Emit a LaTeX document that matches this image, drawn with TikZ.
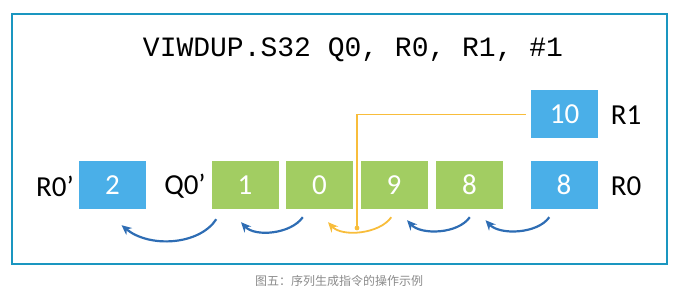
\documentclass[tikz,border=0pt]{standalone}
\usepackage{fontspec}
\setmainfont{Carlito}
\newfontfamily\monofnt{Liberation Mono}
\newfontfamily\cjk{Noto Sans CJK SC}
\usetikzlibrary{arrows.meta,calc}
\definecolor{frameblue}{HTML}{1A96C0}
\definecolor{boxblue}{HTML}{4AAFE8}
\definecolor{boxgreen}{HTML}{A2CD62}
\definecolor{arrblue}{HTML}{2E6DB4}
\definecolor{arryel}{HTML}{F8BD3B}
\definecolor{capgray}{HTML}{8A8A8A}
\tikzset{
  regbox/.style={fill=boxblue,draw=none,minimum width=67pt,minimum height=48pt,inner sep=0pt,text=white,font=\fontsize{29}{29}\selectfont},
  vecbox/.style={regbox,fill=boxgreen},
  lbl/.style={font=\fontsize{29}{29}\selectfont,text=black,inner sep=0pt},
  barr/.style={draw=arrblue,line width=2.2pt,-{Stealth[length=10pt,width=9pt]}},
  yarr/.style={draw=arryel,line width=1.8pt,-{Stealth[length=10pt,width=9pt]}},
}
\begin{document}
\begin{tikzpicture}[x=1pt,y=-1pt]
\useasboundingbox (0,0) rectangle (678,302);
\draw[frameblue,line width=2.2pt] (12,14) rectangle (667,264);
\node[inner sep=0pt,font=\monofnt\fontsize{28}{28}\selectfont] (title) at (353,50) {VIWDUP.S32 Q0, R0, R1, \#1};
% boxes
\node[regbox] (r1) at (564.5,114.5) {10};
\node[regbox] (r0p) at (112.5,185) {2};
\node[vecbox] (q1) at (245,185) {1};
\node[vecbox] (q0) at (319.5,185) {0};
\node[vecbox] (q9) at (394,185) {9};
\node[vecbox] (q8) at (469.5,185) {8};
\node[regbox] (r0) at (564,185) {8};
% labels
\node[lbl] (lr1) at (626,115) {R1};
\node[lbl] (lr0) at (626,186) {R0};
\node[lbl] (lr0p) at (55,186) {R0’};
\node[lbl] (lq0p) at (185,186) {Q0’};
% yellow feed line
\coordinate (dot) at (357,228);
\draw[arryel,line width=1.6pt] ($(r1.west)+(-5,0)$) -| (dot);
% arrows
\draw[barr] ($(q1.south west)+(5,10)$) .. controls +(-17,26) and +(28,23) .. ($(r0p.south)+(9,16)$);
\draw[barr] ($(q0.south west)+(17,8)$) .. controls +(-12,17) and +(14,15) .. ($(q1.south)+(-4,13)$);
\draw[yarr] ($(q9.south west)+(31,8)$) .. controls +(-12,17) and +(14,15) .. ($(q0.south)+(8.5,13)$);
\draw[barr] ($(q8.south west)+(34,8)$) .. controls +(-12,17) and +(14,15) .. ($(q9.south)+(13,11)$);
\draw[barr] ($(r0.south west)+(19,8)$) .. controls +(-12,17) and +(14,15) .. ($(q8.south)+(16,11)$);
\fill[arryel] (dot) circle (2.4pt);
% caption
\node[inner sep=0pt,text=capgray,font=\cjk\fontsize{12}{12}\selectfont] (cap) at (339,281) {图五：序列生成指令的操作示例};
\end{tikzpicture}
\end{document}
